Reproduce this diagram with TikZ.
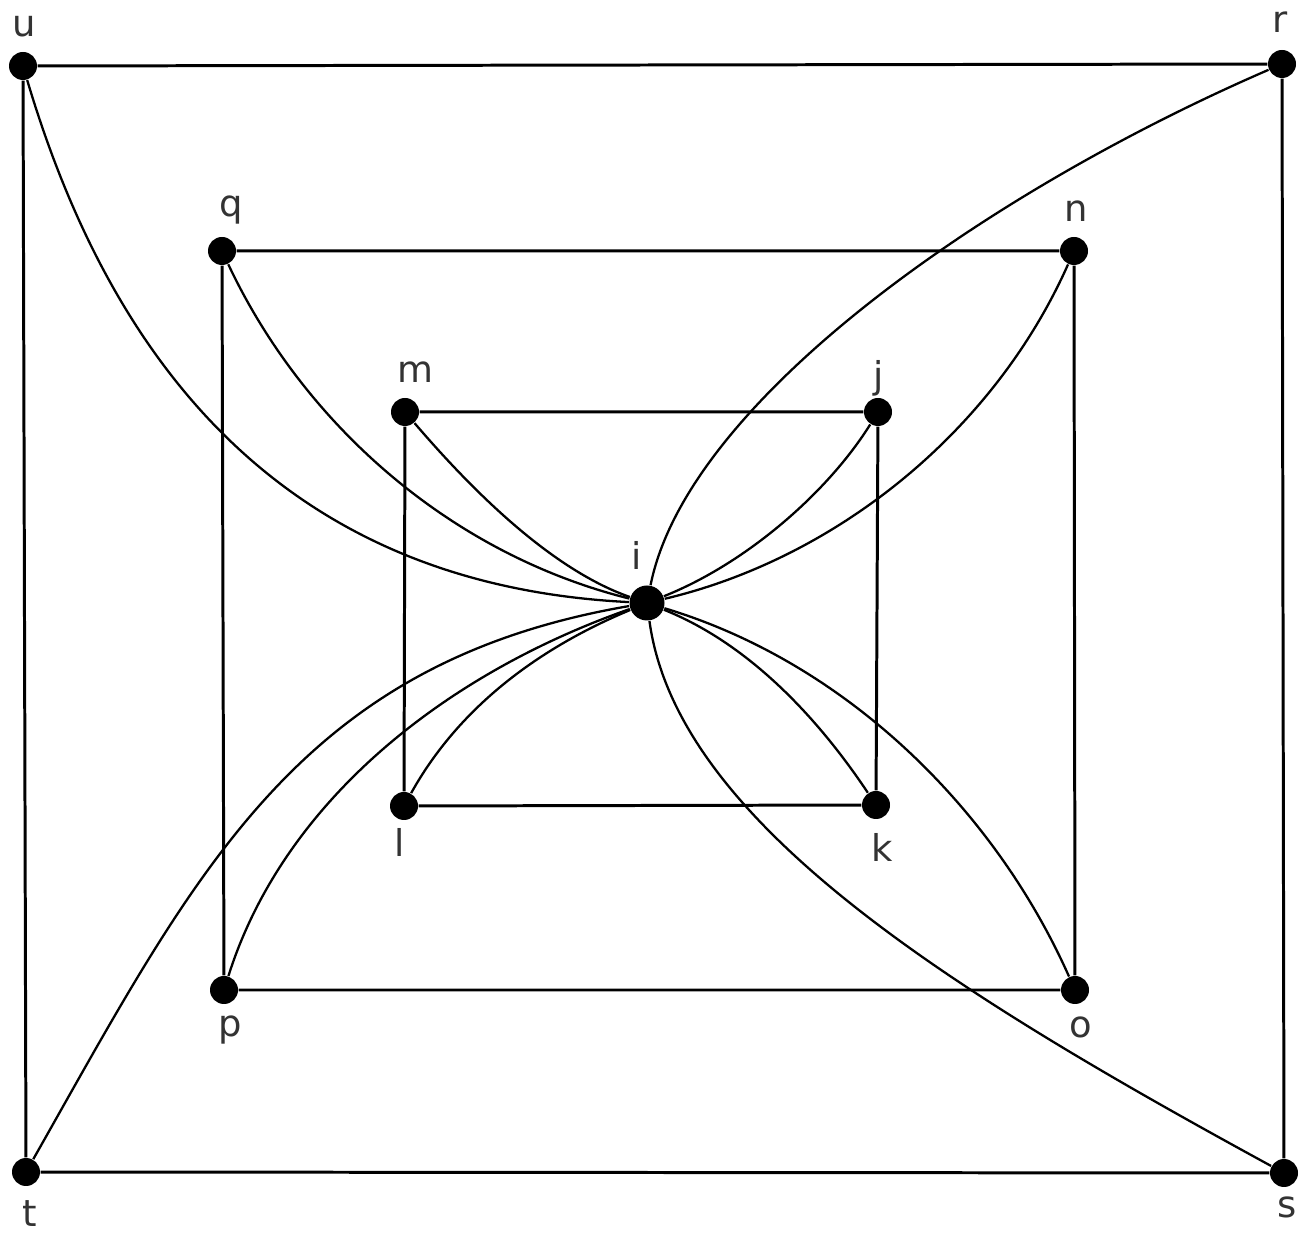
\documentclass[tikz,border=0pt]{standalone}
\usepackage{fontspec}
\setmainfont{DejaVu Sans}
\begin{document}
\begin{tikzpicture}[x=0.1mm,y=-0.1mm,
  dot/.style={circle,fill=black,inner sep=0pt,minimum size=2.8mm},
  bigdot/.style={circle,fill=black,inner sep=0pt,minimum size=3.5mm},
  lab/.style={anchor=base,text=black!80,font=\fontsize{10.5pt}{12pt}\selectfont,inner sep=0pt},
  edge/.style={line width=0.85pt},
  curve/.style={line width=0.65pt}]
\useasboundingbox[fill=white] (0,0) rectangle (1312,1244);
% vertices
\node[dot] (u) at (23,66) {};
\node[dot] (r) at (1282,64) {};
\node[dot] (s) at (1284,1173) {};
\node[dot] (t) at (26,1172) {};
\node[dot] (q) at (222,251) {};
\node[dot] (n) at (1074,251) {};
\node[dot] (o) at (1075,990) {};
\node[dot] (p) at (224,990) {};
\node[dot] (m) at (405,412) {};
\node[dot] (j) at (878,412) {};
\node[dot] (k) at (876,805) {};
\node[dot] (l) at (404,806) {};
\node[bigdot] (i) at (647,603) {};
% labels
\node[lab] (Lu) at (24,37) {u};
\node[lab] (Lr) at (1280,33) {r};
\node[lab] (Lt) at (30,1227) {t};
\node[lab] (Ls) at (1287,1217) {s};
\node[lab] (Lq) at (231,217) {q};
\node[lab] (Ln) at (1076,222) {n};
\node[lab] (Lp) at (230,1037) {p};
\node[lab] (Lo) at (1081,1038) {o};
\node[lab] (Lm) at (415,383) {m};
\node[lab] (Lj) at (879,389) {j};
\node[lab] (Ll) at (400,857) {l};
\node[lab] (Lk) at (882,862) {k};
\node[lab] (Li) at (637,570) {i};
% rectangles
\draw[edge] (u) -- (r) -- (s) -- (t) -- (u);
\draw[edge] (q) -- (n) -- (o) -- (p) -- (q);
\draw[edge] (m) -- (j) -- (k) -- (l) -- (m);
% curves from i
\draw[curve] (i) .. controls +(-300,-15) and +(110,370) .. (u);
\draw[curve] (i) .. controls +(-200,-50) and +(80,170) .. (q);
\draw[curve] (i) .. controls +(-100,-35) and +(60,70) .. (m);
\draw[curve] (i) .. controls +(100,-40) and +(-50,80) .. (j);
\draw[curve] (i) .. controls +(190,-45) and +(-80,180) .. (n);
\draw[curve] (i) .. controls +(40,-200) and +(-300,130) .. (r);
\draw[curve] (i) .. controls +(30,220) and +(-330,-180) .. (s);
\draw[curve] (i) .. controls +(200,60) and +(-80,-180) .. (o);
\draw[curve] (i) .. controls +(100,40) and +(-60,-90) .. (k);
\draw[curve] (i) .. controls +(-120,50) and +(50,-90) .. (l);
\draw[curve] (i) .. controls +(-200,70) and +(60,-190) .. (p);
\draw[curve] (i) .. controls +(-350,60) and +(170,-300) .. (t);
\end{tikzpicture}
\end{document}
